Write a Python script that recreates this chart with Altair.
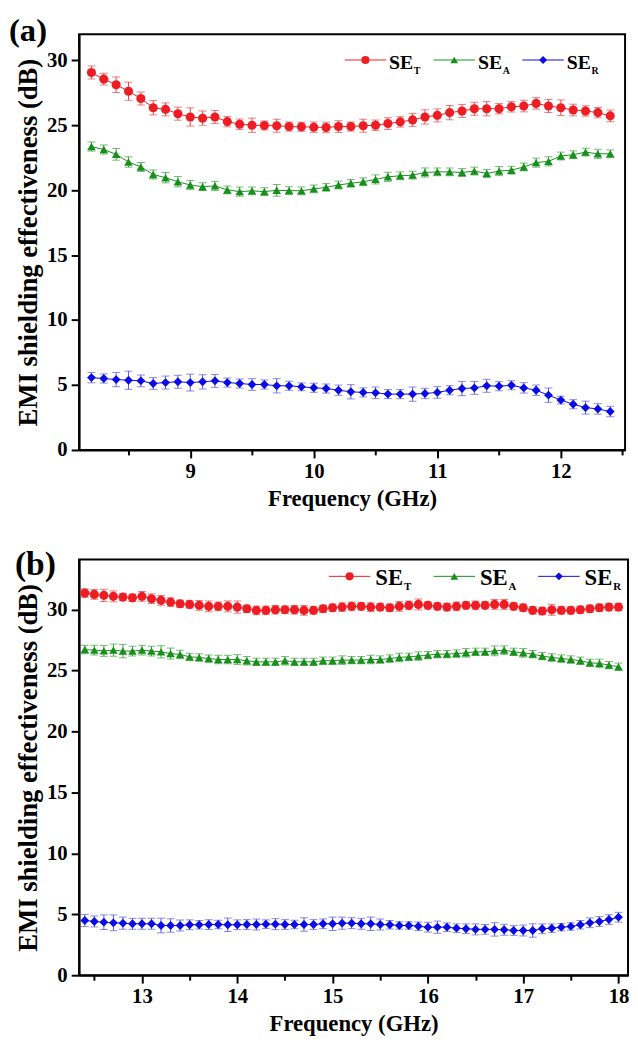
import altair as alt
import pandas as pd

# ---------------- data ----------------
freq_a = [round(8.2 + 0.1 * i, 1) for i in range(43)]
se_t_a = [29.06, 28.55, 28.12, 27.62, 27.06, 26.35, 26.22, 25.89, 25.64, 25.54, 25.64, 25.28, 25.08, 25.0, 24.98, 24.96, 24.9, 24.88, 24.85,
          24.83, 24.9, 24.9, 24.96, 25.0, 25.13, 25.26, 25.41, 25.64, 25.76, 25.97, 26.10, 26.27, 26.27, 26.27, 26.42, 26.48, 26.68, 26.48, 26.35, 26.17, 26.10, 25.97, 25.72]
se_a_a = [23.36, 23.13, 22.76, 22.17, 21.79, 21.21, 20.96, 20.65, 20.40, 20.27, 20.33, 20.02, 19.89, 19.95, 19.89, 19.99, 19.97, 19.95, 20.10,
          20.22, 20.40, 20.53, 20.65, 20.83, 21.03, 21.11, 21.16, 21.36, 21.41, 21.41, 21.36, 21.47, 21.29, 21.47, 21.54, 21.79, 22.12, 22.22, 22.63, 22.73, 22.93, 22.80, 22.80]
se_r_a = [5.57, 5.50, 5.42, 5.37, 5.32, 5.12, 5.19, 5.25, 5.19, 5.25, 5.32, 5.19, 5.12, 5.04, 5.04, 4.94, 4.94, 4.86, 4.79,
          4.73, 4.60, 4.48, 4.43, 4.40, 4.30, 4.30, 4.30, 4.35, 4.43, 4.60, 4.73, 4.78, 4.94, 4.91, 4.98, 4.78, 4.60, 4.22, 3.84, 3.52, 3.26, 3.16, 2.96]
err_t_a = [0.5, 0.45, 0.6, 0.7, 0.5, 0.55, 0.5, 0.5, 0.7, 0.55, 0.5, 0.4, 0.4, 0.55, 0.35, 0.5, 0.35, 0.35, 0.4,
           0.4, 0.45, 0.35, 0.5, 0.4, 0.45, 0.4, 0.5, 0.55, 0.5, 0.55, 0.5, 0.5, 0.55, 0.4, 0.4, 0.45, 0.45, 0.5, 0.6, 0.45, 0.4, 0.4, 0.45]
err_a_a = [0.35, 0.35, 0.45, 0.4, 0.35, 0.35, 0.4, 0.4, 0.35, 0.3, 0.35, 0.3, 0.35, 0.3, 0.3, 0.45, 0.3, 0.3, 0.3,
           0.3, 0.3, 0.3, 0.3, 0.35, 0.35, 0.3, 0.3, 0.35, 0.3, 0.3, 0.3, 0.3, 0.3, 0.35, 0.3, 0.3, 0.35, 0.35, 0.3, 0.3, 0.3, 0.35, 0.3]
err_r_a = [0.4, 0.35, 0.55, 0.7, 0.45, 0.45, 0.5, 0.5, 0.65, 0.55, 0.5, 0.35, 0.35, 0.45, 0.35, 0.55, 0.35, 0.3, 0.35,
           0.35, 0.4, 0.55, 0.35, 0.45, 0.35, 0.35, 0.55, 0.4, 0.45, 0.35, 0.55, 0.5, 0.5, 0.35, 0.35, 0.4, 0.4, 0.55, 0.3, 0.35, 0.5, 0.4, 0.4]

freq_b = [round(12.4 + 0.1 * i, 1) for i in range(57)]
se_t_b = [31.35, 31.24, 31.16, 31.08, 31.02, 30.96, 31.08, 30.89, 30.75, 30.61, 30.47, 30.42, 30.34, 30.26, 30.26, 30.26, 30.20, 30.06, 29.93, 29.93, 29.98, 29.98, 29.98, 29.93, 29.93,
          30.07, 30.15, 30.20, 30.26, 30.26, 30.20, 30.20, 30.15, 30.26, 30.34, 30.42, 30.34, 30.26, 30.20, 30.26, 30.34, 30.34, 30.34, 30.42, 30.42, 30.26, 30.15, 29.93, 29.88, 29.98, 29.93, 29.93, 29.98, 30.07, 30.15, 30.20, 30.20]
se_a_b = [26.72, 26.67, 26.61, 26.67, 26.59, 26.59, 26.67, 26.59, 26.53, 26.39, 26.31, 26.12, 26.07, 25.98, 25.90, 25.90, 25.90, 25.80, 25.71, 25.71, 25.71, 25.80, 25.71, 25.71, 25.71,
          25.80, 25.80, 25.85, 25.85, 25.85, 25.90, 25.90, 25.98, 26.07, 26.12, 26.18, 26.26, 26.34, 26.34, 26.39, 26.45, 26.53, 26.53, 26.61, 26.67, 26.53, 26.45, 26.34, 26.18, 26.07, 25.98, 25.90, 25.80, 25.63, 25.58, 25.44, 25.31]
se_r_b = [4.49, 4.41, 4.35, 4.30, 4.27, 4.22, 4.22, 4.22, 4.08, 4.08, 4.08, 4.14, 4.14, 4.16, 4.16, 4.14, 4.14, 4.16, 4.16, 4.19, 4.19, 4.16, 4.16, 4.16, 4.16,
          4.22, 4.22, 4.27, 4.27, 4.22, 4.22, 4.16, 4.14, 4.08, 4.08, 4.02, 3.94, 3.94, 3.94, 3.86, 3.81, 3.76, 3.76, 3.76, 3.73, 3.67, 3.67, 3.67, 3.81, 3.86, 3.94, 4.00, 4.14, 4.30, 4.41, 4.57, 4.76]
err_t_b = [0.35, 0.4, 0.5, 0.45, 0.3, 0.3, 0.4, 0.4, 0.4, 0.35, 0.3, 0.3, 0.4, 0.45, 0.35, 0.45, 0.5, 0.3, 0.35, 0.35, 0.35, 0.3, 0.35, 0.4, 0.3,
           0.3, 0.3, 0.35, 0.35, 0.3, 0.35, 0.3, 0.3, 0.4, 0.35, 0.45, 0.3, 0.3, 0.3, 0.35, 0.3, 0.35, 0.3, 0.4, 0.4, 0.3, 0.3, 0.3, 0.3, 0.45, 0.3, 0.3, 0.3, 0.3, 0.3, 0.3, 0.3]
err_a_b = [0.35, 0.4, 0.45, 0.5, 0.55, 0.4, 0.4, 0.4, 0.5, 0.45, 0.35, 0.3, 0.3, 0.3, 0.35, 0.35, 0.4, 0.35, 0.3, 0.3, 0.3, 0.35, 0.3, 0.3, 0.3,
           0.3, 0.3, 0.35, 0.3, 0.3, 0.35, 0.3, 0.3, 0.35, 0.3, 0.35, 0.3, 0.3, 0.3, 0.3, 0.35, 0.3, 0.3, 0.4, 0.35, 0.3, 0.35, 0.3, 0.3, 0.3, 0.3, 0.3, 0.3, 0.3, 0.35, 0.3, 0.3]
err_r_b = [0.5, 0.45, 0.6, 0.65, 0.5, 0.45, 0.45, 0.45, 0.6, 0.55, 0.45, 0.4, 0.35, 0.4, 0.35, 0.55, 0.4, 0.4, 0.45, 0.35, 0.45, 0.4, 0.35, 0.55, 0.4,
           0.4, 0.55, 0.5, 0.45, 0.45, 0.55, 0.45, 0.35, 0.3, 0.3, 0.35, 0.4, 0.5, 0.35, 0.35, 0.4, 0.45, 0.4, 0.55, 0.45, 0.4, 0.45, 0.55, 0.4, 0.35, 0.3, 0.3, 0.35, 0.4, 0.4, 0.4, 0.4]

x_ticks_a = [8.5, 9, 9.5, 10, 10.5, 11, 11.5, 12, 12.5]
x_ticks_b = [12.5, 13, 13.5, 14, 14.5, 15, 15.5, 16, 16.5, 17, 17.5, 18]
y_ticks_a = [0, 2.5, 5, 7.5, 10, 12.5, 15, 17.5, 20, 22.5, 25, 27.5, 30]
y_ticks_b = [0, 2.5, 5, 7.5, 10, 12.5, 15, 17.5, 20, 22.5, 25, 27.5, 30, 32.5]

series_names = ["SE", "SE", "SE"]
series_subs = ["T", "A", "R"]

# ---------------- styles ----------------
MARK_COLORS = ["#ee1d23", "#16901a", "#0b0be6"]
ERR_COLORS = ["#e8454a", "#3c9c3c", "#5656dc"]
SHAPES = ["circle", "triangle-up", "diamond"]
SIZES = [85, 75, 80]
FONT = "Liberation Serif"


def panel(freq, vals, errs, xdom, ydom, xticks, yticks, w, h, label, lab_x, lab_y, lab_size, leg, xtitle_pad):
    x_axis = alt.Axis(
        values=xticks, title="Frequency (GHz)", titleFontSize=23,
        labelExpr="datum.value % 1 === 0 ? format(datum.value, 'd') : ''",
        tickSize={"condition": {"test": "datum.value % 1 === 0", "value": 8}, "value": 5},
        labelPadding=3, titlePadding=xtitle_pad,
    )
    y_axis = alt.Axis(
        values=yticks, title="EMI shielding effectiveness (dB)", titleFontSize=27,
        labelExpr="datum.value % 5 === 0 ? format(datum.value, 'd') : ''",
        tickSize={"condition": {"test": "datum.value % 5 === 0", "value": 8}, "value": 5},
        labelPadding=4, titlePadding=4,
    )
    xs = alt.Scale(domain=xdom, nice=False, zero=False)
    ys = alt.Scale(domain=ydom, nice=False, zero=False)
    layers = []
    first = True
    for i in range(3):
        df = pd.DataFrame({"freq": freq, "value": vals[i],
                           "lo": [v - e for v, e in zip(vals[i], errs[i])],
                           "hi": [v + e for v, e in zip(vals[i], errs[i])]})
        base = alt.Chart(df)
        if first:
            X = alt.X("freq:Q", scale=xs, axis=x_axis)
            Y = alt.Y("value:Q", scale=ys, axis=y_axis)
            first = False
        else:
            X = alt.X("freq:Q", scale=xs)
            Y = alt.Y("value:Q", scale=ys)
        layers.append(base.mark_line(color=MARK_COLORS[i], strokeWidth=1).encode(x=X, y=Y))
        layers.append(base.mark_rule(color=ERR_COLORS[i], strokeWidth=1).encode(
            x=alt.X("freq:Q", scale=xs), y=alt.Y("lo:Q", scale=ys), y2="hi:Q"))
        for fld in ["lo", "hi"]:
            layers.append(base.mark_tick(color=ERR_COLORS[i], orient="horizontal", size=8, thickness=1).encode(
                x=alt.X("freq:Q", scale=xs), y=alt.Y(f"{fld}:Q", scale=ys)))
        layers.append(base.mark_point(shape=SHAPES[i], filled=True, size=SIZES[i], opacity=1,
                                      color=MARK_COLORS[i]).encode(
            x=alt.X("freq:Q", scale=xs), y=alt.Y("value:Q", scale=ys)))

    dummy = pd.DataFrame({"a": [0]})
    # panel label
    layers.append(alt.Chart(dummy).mark_text(align="left", baseline="middle", font=FONT, fontWeight="bold",
                                             fontSize=lab_size, color="black").encode(
        x=alt.value(lab_x), y=alt.value(lab_y), text=alt.value(label)))
    # legend
    for i in range(3):
        ox = leg["x0"] + i * leg["step"]
        layers.append(alt.Chart(dummy).mark_rule(color=MARK_COLORS[i], strokeWidth=1).encode(
            x=alt.value(ox), x2=alt.value(ox + leg["line"]), y=alt.value(leg["y"])))
        layers.append(alt.Chart(dummy).mark_point(shape=SHAPES[i], filled=True, size=SIZES[i] * 0.8, opacity=1,
                                                  color=MARK_COLORS[i]).encode(
            x=alt.value(ox + leg["line"] / 2), y=alt.value(leg["y"])))
        layers.append(alt.Chart(dummy).mark_text(align="left", baseline="alphabetic", font=FONT, fontWeight="bold",
                                                 fontSize=leg["fs"], color="black").encode(
            x=alt.value(ox + leg["line"] + leg["gap"]), y=alt.value(leg["y"] + leg["base"]),
            text=alt.value(series_names[i])))
        layers.append(alt.Chart(dummy).mark_text(align="left", baseline="alphabetic", font=FONT, fontWeight="bold",
                                                 fontSize=leg["sfs"], color="black").encode(
            x=alt.value(ox + leg["line"] + leg["gap"] + leg["sw"]), y=alt.value(leg["y"] + leg["base"] + leg["sdrop"]),
            text=alt.value(series_subs[i])))
    return alt.layer(*layers).properties(width=w, height=h)


leg_a = {"x0": 269, "step": 90, "line": 42, "gap": 3, "y": 26, "base": 9, "fs": 20, "sfs": 10, "sw": 25, "sdrop": 5}
leg_b = {"x0": 253, "step": 106, "line": 42, "gap": 5, "y": 17, "base": 9, "fs": 23, "sfs": 11, "sw": 29, "sdrop": 5}

chart_a = panel(freq_a, [se_t_a, se_a_a, se_r_a], [err_t_a, err_a_a, err_r_a],
                [8.1, 12.52], [0, 32], x_ticks_a, y_ticks_a, 553, 421, "(a)", -71, -3, 33, leg_a, 6)
chart_b = panel(freq_b, [se_t_b, se_a_b, se_r_b], [err_t_b, err_a_b, err_r_b],
                [12.34, 18.1], [0, 34.1], x_ticks_b, y_ticks_b, 556, 421, "(b)", -65, 6, 34, leg_b, 6)

chart = alt.vconcat(chart_a, chart_b, spacing=37).properties(
    padding={"left": 0, "top": 0, "right": 0, "bottom": 0}
).configure_view(stroke="black", strokeWidth=2).configure_axis(
    labelFont=FONT, labelFontSize=21, labelFontWeight="bold", labelColor="black",
    titleFont=FONT, titleFontWeight="bold", titleColor="black",
    domainColor="black", domainWidth=2, tickColor="black", tickWidth=2, grid=False,
)

chart.save("out.html", embed_options={"renderer": "svg", "actions": False})
